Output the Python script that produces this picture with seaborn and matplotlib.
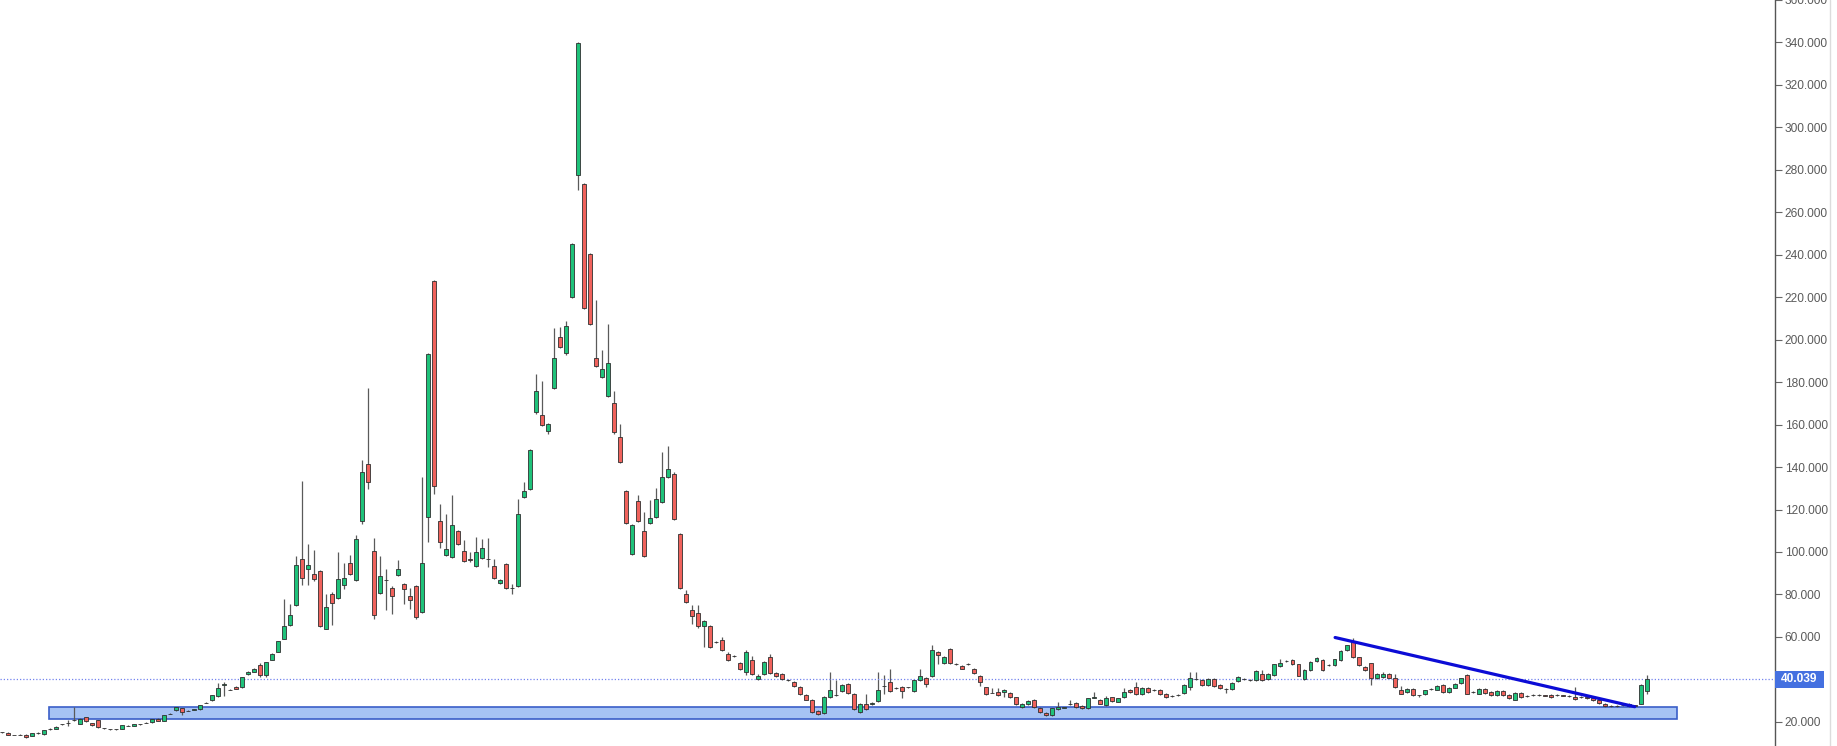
"""Weekly candlestick chart with support zone and falling trendline."""

import numpy as np
import pandas as pd
import matplotlib
matplotlib.use("Agg")
import matplotlib.pyplot as plt
import matplotlib.patches as mpatches
import matplotlib.lines as mlines
import seaborn as sns

# OHLC values, one per weekly candle
opens = [
    15.0, 14.8, 13.8, 14.0, 14.0, 13.3, 14.6, 14.1, 16.5, 16.6,
    18.8, 19.4, 20.7, 19.1, 22.2, 19.2, 20.8, 17.0, 16.6, 16.5,
    16.6, 18.1, 18.0, 18.8, 19.4, 19.8, 21.4, 20.5, 23.7, 25.5,
    26.3, 25.2, 25.7, 25.8, 28.9, 30.2, 32.1, 37.5, 35.1, 36.6,
    36.3, 42.4, 43.6, 46.7, 42.0, 49.3, 52.9, 59.2, 65.5, 74.9,
    96.8, 92.1, 89.8, 91.0, 63.9, 80.4, 78.5, 84.3, 94.8, 86.6,
    114.8, 141.2, 100.4, 80.6, 86.7, 83.2, 89.0, 84.7, 79.1, 83.8,
    71.7, 116.7, 227.7, 114.8, 98.8, 97.6, 109.8, 100.4, 96.5, 93.2,
    97.3, 96.6, 93.2, 85.4, 94.1, 83.0, 83.8, 125.8, 129.7, 165.7,
    164.7, 157.1, 177.2, 201.3, 193.5, 220.3, 277.5, 273.4, 240.2, 191.3,
    182.5, 173.6, 170.4, 154.3, 128.6, 99.2, 123.9, 109.8, 113.6, 116.4,
    123.4, 135.2, 136.8, 108.6, 80.4, 72.5, 71.2, 65.0, 65.0, 57.4,
    58.4, 51.8, 50.9, 47.7, 43.5, 49.0, 40.2, 42.4, 50.3, 42.9,
    42.4, 39.7, 38.8, 36.5, 32.6, 30.5, 25.2, 24.2, 31.5, 32.5,
    34.6, 37.7, 33.0, 24.7, 28.3, 28.3, 29.9, 36.7, 38.8, 35.8,
    36.3, 36.2, 34.6, 39.6, 40.8, 41.5, 52.9, 47.7, 54.5, 47.3,
    46.2, 47.0, 45.1, 41.5, 36.2, 33.7, 34.1, 34.1, 33.6, 31.5,
    27.1, 28.3, 30.2, 26.6, 24.2, 23.1, 25.8, 26.7, 28.2, 28.9,
    27.3, 26.3, 31.4, 30.2, 27.8, 31.5, 29.5, 31.5, 35.0, 36.3,
    33.0, 35.8, 34.9, 35.0, 33.0, 32.0, 32.5, 33.7, 36.6, 40.2,
    39.6, 37.2, 40.1, 37.4, 35.4, 35.5, 39.2, 40.0, 39.7, 39.6,
    42.7, 40.1, 42.2, 46.2, 48.5, 49.3, 47.0, 40.3, 44.4, 48.6,
    49.0, 46.6, 46.7, 49.0, 53.6, 57.6, 50.3, 45.9, 47.5, 40.4,
    41.2, 42.4, 40.4, 34.8, 34.1, 35.6, 32.5, 33.0, 35.4, 35.2,
    37.2, 34.1, 36.1, 38.3, 42.0, 34.0, 33.3, 35.6, 34.1, 32.6,
    34.6, 32.6, 30.5, 33.7, 32.2, 32.5, 32.6, 32.4, 32.6, 32.5,
    32.4, 32.2, 31.8, 31.7, 31.8, 31.3, 30.2, 28.6, 27.4, 27.5,
    27.7, 27.6, 27.7, 28.6, 34.6,
]
highs = [
    15.3, 15.0, 14.0, 14.2, 14.2, 14.7, 15.0, 16.3, 16.9, 17.8,
    19.1, 20.8, 26.8, 21.6, 22.4, 19.4, 21.0, 17.2, 16.8, 16.7,
    18.6, 18.3, 19.0, 19.0, 19.7, 21.3, 21.6, 23.4, 24.0, 27.0,
    26.5, 25.4, 26.0, 27.9, 29.2, 32.8, 38.1, 38.8, 35.3, 36.8,
    41.1, 43.8, 45.5, 47.5, 48.4, 52.3, 58.1, 78.0, 75.7, 97.9,
    133.2, 103.9, 100.7, 91.5, 80.4, 81.0, 99.9, 94.8, 98.4, 108.2,
    143.4, 177.2, 106.7, 98.0, 92.1, 83.8, 96.0, 85.2, 83.2, 84.3,
    135.2, 193.5, 228.2, 122.4, 118.0, 126.6, 110.3, 105.8, 100.0, 107.0,
    106.0, 106.5, 96.8, 87.4, 94.6, 85.0, 125.0, 133.0, 148.5, 184.0,
    180.6, 160.8, 205.7, 206.0, 208.9, 245.4, 340.2, 273.9, 240.7, 218.6,
    195.0, 207.6, 176.0, 160.3, 129.1, 113.0, 126.6, 118.7, 124.6, 130.2,
    146.9, 150.1, 137.8, 109.1, 82.0, 75.0, 75.0, 68.0, 65.5, 58.0,
    60.0, 53.0, 51.3, 48.2, 54.0, 51.0, 42.5, 48.7, 52.0, 43.4,
    42.9, 40.0, 39.2, 36.9, 33.0, 30.9, 25.6, 32.2, 43.5, 39.6,
    37.7, 38.1, 33.4, 28.7, 33.0, 29.3, 43.5, 42.0, 45.0, 36.3,
    36.7, 36.6, 40.0, 45.0, 41.2, 56.0, 53.3, 51.0, 54.9, 47.6,
    46.6, 47.5, 45.5, 41.9, 36.6, 36.0, 36.0, 35.6, 34.0, 31.9,
    28.7, 30.5, 30.6, 27.0, 24.6, 26.7, 29.5, 27.2, 30.2, 29.3,
    27.7, 31.4, 34.1, 30.6, 32.1, 31.9, 31.4, 36.1, 35.4, 38.8,
    36.2, 36.2, 35.3, 35.4, 33.4, 32.4, 32.9, 37.6, 43.5, 43.5,
    40.0, 40.5, 40.5, 37.8, 35.8, 38.7, 41.6, 40.5, 40.0, 44.2,
    44.5, 43.1, 47.4, 49.4, 49.0, 49.7, 47.4, 44.8, 48.7, 50.6,
    49.4, 47.1, 49.8, 53.8, 56.4, 59.7, 50.7, 46.3, 47.9, 42.8,
    43.5, 42.8, 42.5, 37.0, 36.0, 36.0, 32.8, 35.2, 35.8, 37.1,
    37.6, 36.5, 38.1, 40.8, 42.4, 34.5, 36.0, 36.0, 34.5, 35.0,
    35.0, 33.0, 34.1, 34.1, 32.5, 32.9, 32.9, 32.7, 33.0, 32.9,
    32.7, 32.5, 36.3, 32.1, 32.2, 31.7, 30.6, 29.0, 27.7, 27.9,
    28.1, 29.0, 28.0, 38.0, 42.0,
]
lows = [
    14.8, 13.7, 13.6, 13.8, 12.6, 13.1, 14.4, 13.9, 16.3, 16.4,
    18.6, 18.0, 20.5, 18.9, 20.0, 18.1, 17.2, 16.7, 16.3, 16.3,
    16.4, 17.8, 17.8, 18.6, 19.2, 19.6, 20.3, 20.3, 23.5, 25.3,
    23.0, 25.0, 25.5, 25.6, 28.7, 30.0, 31.9, 32.1, 34.8, 35.3,
    36.1, 42.2, 43.4, 41.0, 41.0, 49.1, 52.7, 59.0, 65.3, 74.5,
    84.3, 84.3, 86.5, 64.5, 63.5, 65.5, 78.0, 82.7, 89.0, 86.2,
    113.3, 129.7, 68.2, 80.0, 72.5, 71.0, 88.5, 75.3, 73.0, 68.5,
    71.2, 104.6, 127.4, 102.0, 98.3, 97.1, 103.4, 95.2, 95.5, 92.7,
    96.8, 93.0, 87.4, 84.9, 82.7, 80.0, 83.3, 125.3, 129.2, 165.2,
    159.5, 155.5, 176.7, 196.1, 193.0, 219.8, 270.3, 214.3, 207.1, 187.2,
    182.0, 173.1, 155.8, 141.7, 113.1, 98.7, 114.3, 97.4, 113.1, 115.9,
    122.9, 134.7, 115.1, 82.7, 75.9, 66.0, 64.0, 55.3, 54.8, 57.0,
    53.5, 48.8, 50.6, 44.6, 42.0, 42.0, 39.5, 41.9, 42.4, 41.0,
    39.8, 39.3, 36.4, 32.6, 30.1, 24.3, 23.2, 23.8, 31.1, 32.2,
    34.2, 33.0, 25.4, 24.3, 25.4, 27.9, 29.5, 33.0, 34.2, 35.5,
    31.0, 35.9, 34.2, 39.2, 36.5, 41.1, 47.0, 47.3, 47.3, 46.8,
    44.7, 46.7, 42.6, 37.0, 32.6, 33.4, 32.2, 31.5, 31.4, 27.9,
    26.7, 27.9, 26.7, 24.3, 22.7, 22.7, 25.4, 26.4, 27.9, 26.7,
    25.9, 25.9, 31.1, 28.2, 27.4, 29.5, 29.1, 31.1, 33.7, 32.6,
    32.6, 33.7, 34.6, 32.6, 31.0, 31.6, 32.2, 33.3, 35.0, 39.8,
    37.0, 36.8, 36.5, 35.4, 33.4, 35.1, 38.8, 39.7, 39.2, 39.2,
    39.0, 39.7, 41.8, 45.8, 48.2, 46.6, 41.4, 39.5, 44.0, 48.2,
    43.9, 46.3, 46.3, 48.6, 53.2, 50.2, 46.3, 43.9, 37.3, 40.0,
    40.8, 40.4, 36.1, 32.9, 33.7, 32.0, 31.5, 32.6, 35.1, 34.8,
    33.7, 33.7, 35.7, 37.9, 32.9, 33.7, 32.9, 33.2, 32.1, 32.2,
    32.2, 30.6, 30.1, 31.1, 31.8, 32.2, 32.3, 32.0, 31.1, 32.2,
    32.0, 31.8, 30.5, 31.4, 30.6, 29.8, 28.5, 26.9, 27.0, 27.2,
    27.4, 27.2, 27.3, 28.2, 33.0,
]
closes = [
    15.1, 13.9, 13.9, 14.0, 12.8, 14.5, 14.8, 16.1, 16.7, 17.6,
    18.9, 19.5, 20.8, 21.4, 20.2, 18.3, 17.4, 16.9, 16.5, 16.6,
    18.4, 18.0, 18.8, 18.9, 19.5, 21.1, 20.5, 23.2, 23.8, 26.8,
    24.8, 25.3, 25.8, 27.7, 29.0, 32.6, 35.7, 37.6, 35.0, 35.5,
    40.9, 43.6, 44.7, 42.0, 48.2, 52.1, 57.9, 65.0, 70.2, 93.7,
    87.9, 93.7, 87.4, 65.0, 74.1, 76.0, 87.4, 87.9, 89.4, 106.2,
    137.5, 132.8, 70.2, 88.5, 86.9, 79.1, 92.1, 82.7, 77.5, 69.4,
    94.8, 193.2, 131.3, 104.6, 101.5, 112.5, 103.9, 95.7, 96.0, 99.9,
    102.0, 96.8, 87.9, 86.9, 83.2, 83.2, 118.0, 128.9, 148.0, 175.6,
    160.0, 160.3, 191.6, 196.6, 206.5, 244.9, 339.7, 214.8, 207.6, 187.7,
    186.1, 188.8, 156.3, 142.2, 113.6, 112.5, 114.8, 97.9, 116.1, 125.0,
    135.5, 139.1, 115.6, 83.2, 76.4, 69.7, 65.0, 67.5, 55.3, 57.6,
    54.0, 49.3, 51.0, 45.1, 52.9, 42.7, 41.5, 48.2, 42.9, 41.5,
    40.3, 39.6, 36.8, 33.0, 30.5, 24.7, 23.6, 31.8, 35.2, 32.6,
    37.3, 33.4, 25.8, 28.3, 25.8, 28.9, 35.2, 36.8, 34.6, 35.9,
    34.6, 36.3, 39.6, 41.5, 38.0, 54.0, 51.4, 50.6, 47.7, 47.1,
    45.1, 47.1, 43.0, 38.8, 33.0, 33.8, 32.6, 35.2, 31.8, 28.3,
    28.3, 29.9, 27.1, 24.7, 23.1, 26.3, 26.8, 26.8, 28.3, 27.1,
    26.3, 31.0, 31.5, 28.6, 31.0, 29.9, 31.0, 34.1, 34.1, 33.0,
    35.8, 34.1, 35.0, 33.0, 31.8, 32.1, 32.6, 37.2, 40.8, 40.3,
    37.4, 40.1, 36.9, 35.8, 35.3, 38.3, 41.2, 40.1, 39.5, 43.8,
    39.5, 42.7, 47.0, 47.8, 48.6, 47.0, 41.8, 44.4, 48.3, 50.1,
    44.3, 46.7, 49.4, 53.4, 56.0, 50.6, 46.7, 44.3, 40.4, 42.4,
    42.7, 40.8, 36.5, 33.3, 35.6, 32.4, 32.4, 34.8, 35.5, 36.7,
    34.1, 36.1, 37.7, 40.4, 33.3, 34.1, 35.6, 33.6, 32.5, 34.6,
    32.6, 31.0, 33.7, 31.5, 32.1, 32.6, 32.7, 32.3, 31.5, 32.6,
    32.3, 32.1, 30.9, 31.8, 31.0, 30.2, 28.9, 27.3, 27.3, 27.6,
    27.8, 28.6, 27.6, 37.3, 40.039,
]

# support zone (candle index range, price range)
zone_x = [7.9, 279.0]
zone_y = [21.1, 26.8]

# falling trendline (candle index, price)
trend_x = [222.1, 272.0]
trend_y = [59.7, 27.1]

tick_values = [20, 60, 80, 100, 120, 140, 160, 180, 200, 220, 240,
               260, 280, 300, 320, 340, 360]

GREEN = "#1fc27a"
RED = "#f0625c"

sns.set_theme(style="white")
plt.rcParams["font.family"] = ["Liberation Sans", "DejaVu Sans"]

df = pd.DataFrame({"open": opens, "high": highs, "low": lows, "close": closes})
df["idx"] = np.arange(len(df))
df["up"] = df["close"] >= df["open"]
last_close = df["close"].iloc[-1]

fig = plt.figure(figsize=(18.37, 7.46), dpi=100)
ax = fig.add_axes([0, 0, 1775 / 1837, 1])

# support zone
ax.add_patch(mpatches.Rectangle(
    (zone_x[0], zone_y[0]), zone_x[1] - zone_x[0], zone_y[1] - zone_y[0],
    facecolor="#a6c3f4", edgecolor="#3b5fc8", linewidth=1.2, zorder=1))

# wicks
ax.vlines(df["idx"], df["low"], df["high"], color="#5a5a5a", linewidth=0.9, zorder=2)

# bodies
bottoms = np.minimum(df["open"], df["close"])
heights = (df["close"] - df["open"]).abs()
ax.bar(df["idx"], heights, bottom=bottoms, width=0.66,
       color=np.where(df["up"], GREEN, RED),
       edgecolor="#2f2f2f", linewidth=0.6, zorder=3)

# current price line
ax.axhline(last_close, color="#7383ef", linestyle=(0, (1, 1.6)), linewidth=0.9, zorder=2)

# trendline
sns.lineplot(x=trend_x, y=trend_y, ax=ax, color="#0c0cd6", linewidth=2.3, zorder=4)

ax.set_xlim(-0.283, 295.37)
ax.set_ylim(8.6, 360)
ax.set_xticks([])

ax.yaxis.tick_right()
ax.set_yticks(tick_values)
ax.set_yticklabels([f"{v:.3f}" for v in tick_values])
ax.tick_params(axis="y", left=False, labelleft=False, right=True, labelright=True,
               direction="out", length=5, width=0.8, color="#666666",
               labelcolor="#5a5a5a", labelsize=8.6, pad=2)

for side in ["left", "top", "bottom"]:
    ax.spines[side].set_visible(False)
ax.spines["right"].set_color("#555555")
ax.spines["right"].set_linewidth(1.0)

# price tag on the axis
tag_h = 7.8
ax.add_patch(mpatches.Rectangle(
    (1.0, last_close - tag_h / 2), 0.0275, tag_h,
    transform=ax.get_yaxis_transform(), facecolor="#4470e0",
    edgecolor="none", clip_on=False, zorder=5))
ax.text(1.0138, last_close, f"{last_close:.3f}", transform=ax.get_yaxis_transform(),
        ha="center", va="center", color="white", fontsize=8.6, fontweight="bold",
        zorder=6, clip_on=False)

# right frame edge
fig.add_artist(mlines.Line2D([1829.5 / 1837] * 2, [0, 1], color="#dcdcdc",
                             linewidth=1.0, transform=fig.transFigure))

fig.savefig("out.png", dpi=100)
plt.close(fig)
